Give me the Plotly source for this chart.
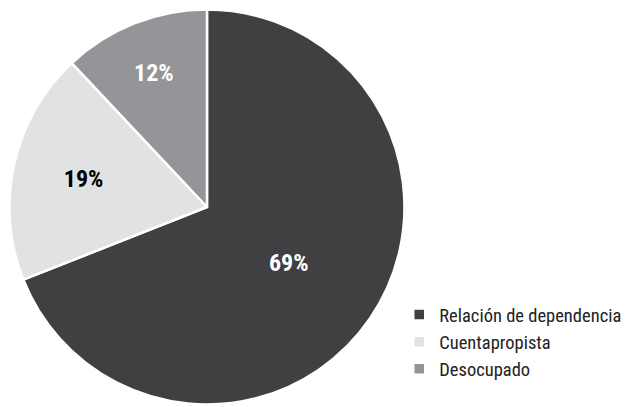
import plotly.graph_objects as go

labels = ["Relación de dependencia", "Cuentapropista", "Desocupado"]
values = [69, 19, 12]
text_labels = ["69%", "19%", "12%"]
colors = ["#404042", "#e1e2e4", "#939598"]
text_colors = ["white", "black", "white"]

font_family = "Liberation Sans Narrow, Roboto Condensed, Arial Narrow, Liberation Sans, sans-serif"

fig = go.Figure(go.Pie(
    labels=labels,
    values=values,
    text=text_labels,
    textinfo="text",
    textposition="inside",
    insidetextorientation="horizontal",
    insidetextfont=dict(color=text_colors, size=24, family=font_family, weight="bold"),
    marker=dict(colors=colors, line=dict(color="white", width=2.5)),
    sort=False,
    direction="clockwise",
    rotation=0,
    domain=dict(x=[0.0024, 0.6354], y=[0.0063, 0.9962]),
))

# page body adds an 8px offset, so the figure is 8px smaller than the window
fig.update_layout(
    width=624,
    height=399,
    margin=dict(l=0, r=0, t=0, b=0, autoexpand=False),
    paper_bgcolor="white",
    plot_bgcolor="white",
    font=dict(family=font_family, size=18.5, color="#222222"),
    legend=dict(x=0.627, y=0.278, xanchor="left", yanchor="top",
                font=dict(size=18.5), tracegroupgap=0, itemwidth=30),
)

fig.write_html("out.html")
